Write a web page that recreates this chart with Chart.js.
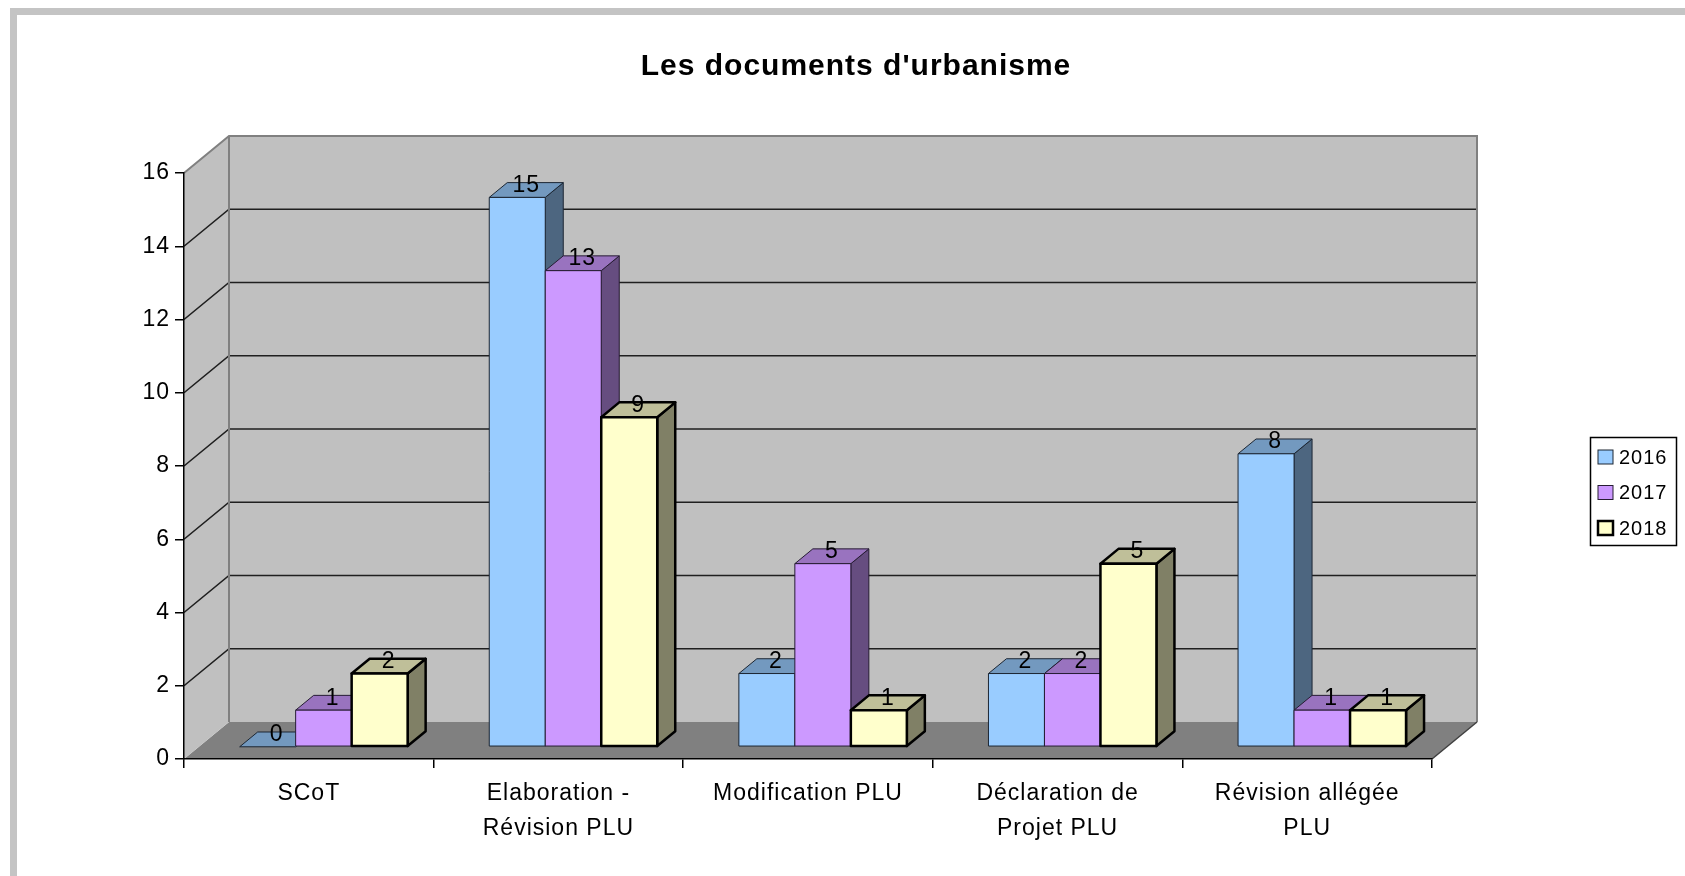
<!DOCTYPE html>
<html>
<head>
<meta charset="utf-8">
<title>Les documents d'urbanisme</title>
<script src="https://cdn.jsdelivr.net/npm/chart.js@4.4.0/dist/chart.umd.min.js"></script>
<style>
    html, body { margin: 0; padding: 0; background: #fff; overflow: hidden; }
    #wrap { position: absolute; left: 0; top: 0; width: 1685px; height: 876px; }
    #frame {
        position: absolute; left: 10px; top: 8px; right: -20px; bottom: -20px;
        border-left: 7px solid #c4c4c4; border-top: 7px solid #c4c4c4;
        pointer-events: none;
    }
</style>
</head>
<body>
<div id="wrap">
    <canvas id="chart" width="1685" height="876"></canvas>
    <div id="frame"></div>
</div>
<script>
// Data
const chartTitle = "Les documents d'urbanisme";
const categories = [
    ["SCoT"],
    ["Elaboration -", "Révision PLU"],
    ["Modification PLU"],
    ["Déclaration de", "Projet PLU"],
    ["Révision allégée", "PLU"]
];
const seriesNames = ["2016", "2017", "2018"];
const values2016 = [0, 15, 2, 2, 8];
const values2017 = [1, 13, 5, 2, 1];
const values2018 = [2, 9, 1, 5, 1];
const yMin = 0;
const yMax = 16;
const yStep = 2;

// Styles
const FONT = '"Liberation Sans", Arial, sans-serif';
const faceColors = [
    { front: "#99ccff", top: "#7399bf", side: "#4d6680", edge: "#1c2633", edgeWidth: 1 },
    { front: "#cc99ff", top: "#9973bf", side: "#664d80", edge: "#261c33", edgeWidth: 1 },
    { front: "#ffffcc", top: "#bfbf99", side: "#808066", edge: "#000000", edgeWidth: 2.5 }
];
const WALL_DX = 45;
const WALL_DY = -37;
const BAR_SHIFT = 0.33;   // where the bars' front plane sits in the depth
const BAR_DEPTH = 0.4;    // bar thickness in the depth

function poly(ctx, pts, fill, stroke) {
    ctx.beginPath();
    ctx.moveTo(pts[0][0], pts[0][1]);
    for (let k = 1; k < pts.length; k++) ctx.lineTo(pts[k][0], pts[k][1]);
    ctx.closePath();
    if (fill) { ctx.fillStyle = fill; ctx.fill(); }
    if (stroke) ctx.stroke();
}

// Walls, floor, 3D bars, title and legend
const box3d = {
    id: "box3d",
    beforeDraw(chart) {
        const ctx = chart.ctx;
        ctx.letterSpacing = "1px";
        const { left: L, right: R, top: T, bottom: B } = chart.chartArea;
        const dx = WALL_DX, dy = WALL_DY;
        ctx.save();
        poly(ctx, [[L, B], [R, B], [R + dx, B + dy], [L + dx, B + dy]], "#808080");
        poly(ctx, [[L, B], [L, T], [L + dx, T + dy], [L + dx, B + dy]], "#c0c0c0");
        ctx.fillStyle = "#c0c0c0";
        ctx.fillRect(L + dx, T + dy, R - L, B - T);

        const y = chart.scales.y;
        ctx.strokeStyle = "#1f1f1f";
        ctx.lineWidth = 1.6;
        y.ticks.forEach(t => {
            if (t.value <= yMin || t.value >= yMax) return;
            const py = y.getPixelForValue(t.value);
            ctx.beginPath();
            ctx.moveTo(L, py);
            ctx.lineTo(L + dx, py + dy);
            ctx.lineTo(R + dx, py + dy);
            ctx.stroke();
        });

        ctx.strokeStyle = "#808080";
        ctx.lineWidth = 2;
        ctx.beginPath();
        ctx.moveTo(L, T);
        ctx.lineTo(L + dx, T + dy);
        ctx.lineTo(R + dx, T + dy);
        ctx.lineTo(R + dx, B + dy);
        ctx.stroke();
        ctx.beginPath();
        ctx.moveTo(L + dx, T + dy);
        ctx.lineTo(L + dx, B + dy);
        ctx.stroke();
        ctx.strokeStyle = "#404040";
        ctx.lineWidth = 1.5;
        ctx.beginPath();
        ctx.moveTo(R, B);
        ctx.lineTo(R + dx, B + dy);
        ctx.stroke();
        ctx.restore();
    },
    beforeDatasetDraw() {
        return false;
    },
    afterDatasetsDraw(chart) {
        const ctx = chart.ctx;
        const bx = WALL_DX * BAR_DEPTH, by = WALL_DY * BAR_DEPTH;
        const sx = WALL_DX * BAR_SHIFT, sy = WALL_DY * BAR_SHIFT;
        const labels = [];
        ctx.save();
        ctx.lineJoin = "round";
        for (let i = 0; i < categories.length; i++) {
            chart.data.datasets.forEach((ds, j) => {
                const el = chart.getDatasetMeta(j).data[i];
                const p = el.getProps(["x", "y", "base", "width"], true);
                const x0 = p.x - p.width / 2 + sx;
                const x1 = p.x + p.width / 2 + sx;
                const yt = p.y + sy;
                const yb = p.base + sy;
                const c = faceColors[j];
                ctx.strokeStyle = c.edge;
                ctx.lineWidth = c.edgeWidth;
                if (yb - yt > 0.5) {
                    poly(ctx, [[x1, yb], [x1, yt], [x1 + bx, yt + by], [x1 + bx, yb + by]], c.side, true);
                }
                poly(ctx, [[x0, yt], [x1, yt], [x1 + bx, yt + by], [x0 + bx, yt + by]], c.top, true);
                if (yb - yt > 0.5) {
                    poly(ctx, [[x0, yt], [x1, yt], [x1, yb], [x0, yb]], c.front, true);
                }
                labels.push([(x0 + x1) / 2 + bx / 2, yt - 12, ds.data[i]]);
            });
        }
        ctx.fillStyle = "#000";
        ctx.font = "23px " + FONT;
        ctx.textAlign = "center";
        ctx.textBaseline = "middle";
        labels.forEach(l => ctx.fillText(String(l[2]), l[0], l[1]));
        ctx.restore();
    },
    afterDraw(chart) {
        const ctx = chart.ctx;
        ctx.save();
        // title
        ctx.fillStyle = "#000";
        ctx.font = "bold 30px " + FONT;
        ctx.textAlign = "center";
        ctx.textBaseline = "middle";
        ctx.fillText(chartTitle, 856, 67);

        // legend
        ctx.strokeStyle = "#000";
        ctx.lineWidth = 1.5;
        ctx.strokeRect(1590.5, 437.5, 86, 108);
        ctx.font = "20px " + FONT;
        ctx.textAlign = "left";
        chart.data.datasets.forEach((ds, j) => {
            const cy = 457 + j * 35.5;
            const c = faceColors[j];
            ctx.fillStyle = c.front;
            ctx.fillRect(1598, cy - 7, 15, 14);
            ctx.strokeStyle = c.edge;
            ctx.lineWidth = c.edgeWidth === 1 ? 1 : 2.5;
            ctx.strokeRect(1598, cy - 7, 15, 14);
            ctx.fillStyle = "#000";
            ctx.fillText(ds.label, 1619, cy + 1);
        });
        ctx.restore();
    }
};

const seriesValues = [values2016, values2017, values2018];

new Chart(document.getElementById("chart").getContext("2d"), {
    type: "bar",
    data: {
        labels: categories,
        datasets: seriesNames.map((name, j) => ({
            label: name,
            data: seriesValues[j],
            backgroundColor: faceColors[j].front,
            borderColor: faceColors[j].edge,
            borderWidth: faceColors[j].edgeWidth,
            categoryPercentage: 0.673,
            barPercentage: 1.0
        }))
    },
    options: {
        responsive: false,
        animation: false,
        layout: {
            padding: { top: 173, right: 253, bottom: 0, left: 0 }
        },
        plugins: {
            legend: { display: false },
            title: { display: false },
            tooltip: { enabled: false }
        },
        scales: {
            x: {
                grid: {
                    offset: true,
                    drawOnChartArea: false,
                    drawTicks: true,
                    tickLength: 9,
                    color: "#000",
                    lineWidth: 1.5
                },
                border: { display: true, color: "#000", width: 1.5 },
                ticks: {
                    color: "#000",
                    font: { family: FONT, size: 23, lineHeight: 1.5 },
                    padding: 8.5,
                    maxRotation: 0,
                    autoSkip: false
                },
                afterFit(scale) { scale.height = 117; }
            },
            y: {
                min: yMin,
                max: yMax,
                grid: {
                    drawOnChartArea: false,
                    drawTicks: true,
                    tickLength: 9,
                    color: "#000",
                    lineWidth: 1.5
                },
                border: { display: true, color: "#000", width: 1.5 },
                ticks: {
                    stepSize: yStep,
                    color: "#000",
                    font: { family: FONT, size: 23 },
                    padding: 5
                },
                afterFit(scale) { scale.width = 184; }
            }
        }
    },
    plugins: [box3d]
});
</script>
</body>
</html>
